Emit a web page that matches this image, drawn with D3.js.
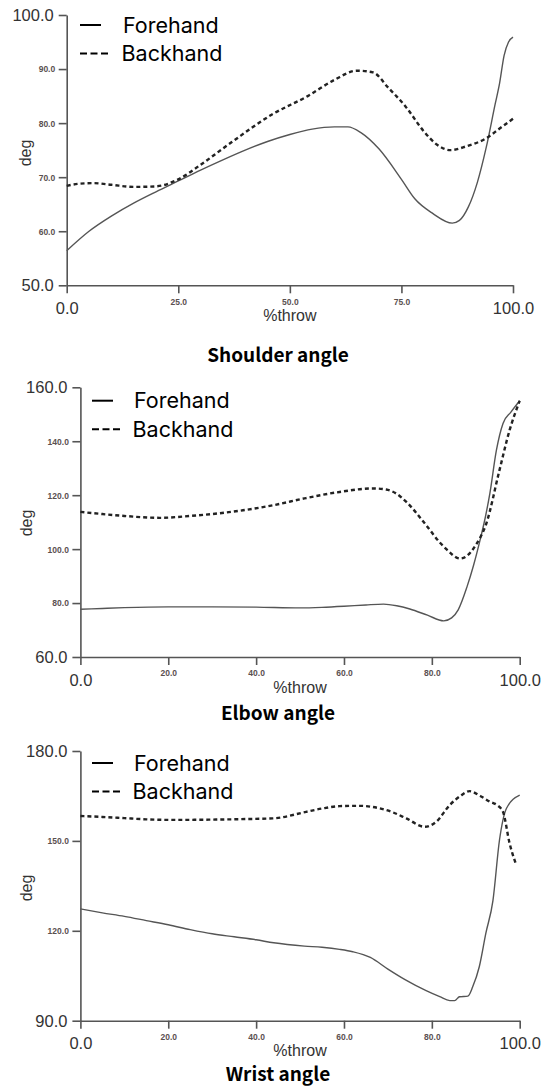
<!DOCTYPE html>
<html><head><meta charset="utf-8">
<script src="https://cdn.jsdelivr.net/npm/d3@7"></script>
<style>
html,body{margin:0;padding:0;background:#fff;}
svg{display:block;}
</style>
</head><body>
<svg id="c" width="546" height="1086"></svg>
<script>
// ---------- DATA ----------
const legendLabels = ["Forehand", "Backhand"];
const xAxisLabel = "%throw";
const yAxisLabel = "deg";
const panelTitles = ["Shoulder angle", "Elbow angle", "Wrist angle"];

const shoulderTicksX = [0, 25, 50, 75, 100];
const shoulderTicksY = [50, 60, 70, 80, 90, 100];
const elbowTicksX = [0, 20, 40, 60, 80, 100];
const elbowTicksY = [60, 80, 100, 120, 140, 160];
const wristTicksX = [0, 20, 40, 60, 80, 100];
const wristTicksY = [90, 120, 150, 180];

const shoulderFhX = [0, 5, 10, 15, 20, 25, 30, 35, 40, 45, 50, 55, 60, 63, 66, 70, 75, 78, 82, 86.4, 88, 90, 92, 94, 96, 97, 98, 99, 100];
const shoulderFhY = [56.4, 60, 62.8, 65.2, 67.3, 69.3, 71.3, 73.2, 75.0, 76.6, 77.9, 78.9, 79.3, 79.3, 78.2, 75.2, 69.6, 66.0, 63.3, 61.5, 62.0, 64.5, 69.0, 75.5, 83.5, 87.4, 92.5, 95.0, 95.9];
const shoulderBhX = [0, 3, 6, 10, 15, 20, 25, 30, 37, 46, 54, 60, 65, 68.6, 72, 76, 80, 83, 86, 89.5, 94, 97, 100];
const shoulderBhY = [68.4, 68.8, 68.9, 68.6, 68.2, 68.3, 69.6, 72.3, 76.5, 81.6, 85.0, 88.0, 89.7, 89.4, 86.6, 83.0, 78.5, 76.0, 75.0, 75.7, 77.2, 79.0, 80.8];

const elbowFhX = [0, 5, 10, 20, 30, 40, 50, 55, 60, 65, 69, 72, 75, 79, 82.7, 84.5, 86, 88, 89.5, 91, 92.2, 93.2, 94.7, 96.2, 98, 100];
const elbowFhY = [77.7, 78.0, 78.3, 78.6, 78.6, 78.5, 78.2, 78.4, 78.8, 79.3, 79.6, 79.0, 77.8, 75.5, 73.4, 74.5, 77.5, 86, 94, 103.5, 112, 120.6, 136.7, 146.6, 150.8, 155];
const elbowBhX = [0, 5, 10, 18, 25, 30, 37, 44, 51, 59, 66.6, 69.6, 72, 74.2, 78.7, 81.8, 83.3, 86.4, 88, 90, 92.4, 95.4, 97.7, 100];
const elbowBhY = [113.8, 113.0, 112.3, 111.6, 112.3, 113.0, 114.4, 116.3, 118.8, 121.2, 122.5, 122.1, 120.5, 117.5, 108.9, 102.5, 100.0, 96.5, 97.5, 101.5, 109.5, 129.3, 144.1, 155];

const wristFhX = [0, 5, 10, 15, 20, 25, 30, 35, 40, 44, 51, 55, 59, 62, 66, 70, 74, 78.7, 81.8, 84.1, 85.2, 86.3, 88.2, 89.3, 90.8, 92.3, 93.9, 95.4, 97, 100];
const wristFhY = [127.3, 126, 124.8, 123.4, 122, 120.4, 119, 118, 117, 116, 114.9, 114.5, 113.8, 113, 111.1, 107.2, 103.6, 100, 98, 96.7, 96.7, 98, 98.2, 101.3, 108, 119.2, 130, 150.3, 160.9, 165.3];
const wristBhX = [0, 5, 10, 15, 21, 30, 38, 43.8, 51.4, 55, 59, 63.6, 68, 71, 74.2, 78.4, 81, 84.1, 86.5, 88.6, 91, 93.2, 95, 96.2, 97.7, 99.2];
const wristBhY = [158.3, 158, 157.6, 157.2, 157, 157.1, 157.3, 157.5, 159.7, 160.8, 161.6, 161.7, 160.9, 159.6, 157.5, 154.7, 156.4, 162, 165, 166.6, 165, 163.1, 161.8, 159.7, 149.2, 142];

// ---------- DRAW ----------
const svg = d3.select("#c");
svg.append("rect").attr("width", 546).attr("height", 1086).attr("fill", "#fff");

const panels = [
  {left: 66.7, right: 513, top: 15, bottom: 285.3, xTicks: shoulderTicksX, yTicks: shoulderTicksY,
   fh: [shoulderFhX, shoulderFhY], bh: [shoulderBhX, shoulderBhY], title: panelTitles[0],
   titleY: 355, degX: 25, degY: 153, legX: 80, legTextX: 123, legY: 25},
  {left: 80.4, right: 519.7, top: 387.3, bottom: 657, xTicks: elbowTicksX, yTicks: elbowTicksY,
   fh: [elbowFhX, elbowFhY], bh: [elbowBhX, elbowBhY], title: panelTitles[1],
   titleY: 713, degX: 26, degY: 523, legX: 92, legTextX: 134, legY: 400.7},
  {left: 80.4, right: 519.7, top: 751, bottom: 1020.7, xTicks: wristTicksX, yTicks: wristTicksY,
   fh: [wristFhX, wristFhY], bh: [wristBhX, wristBhY], title: panelTitles[2],
   titleY: 1074, degX: 26, degY: 888, legX: 92, legTextX: 134, legY: 763}
];

const tickFont = "'Liberation Sans', Arial, sans-serif";
const legendFont = "Inter, 'Noto Sans', sans-serif";
const titleFont = "'Noto Sans CJK KR', 'Noto Sans', sans-serif";

panels.forEach(p => {
  const yMin = p.yTicks[0], yMax = p.yTicks[p.yTicks.length - 1];
  const x = d3.scaleLinear().domain([0, 100]).range([p.left, p.right]);
  const y = d3.scaleLinear().domain([yMin, yMax]).range([p.bottom, p.top]);
  const g = svg.append("g");

  const ya = g.append("g").attr("transform", `translate(${p.left},0)`)
    .call(d3.axisLeft(y).tickValues(p.yTicks).tickFormat(d3.format(".1f")).tickSize(8).tickSizeOuter(0).tickPadding(3));
  const xa = g.append("g").attr("transform", `translate(0,${p.bottom})`)
    .call(d3.axisBottom(x).tickValues(p.xTicks).tickFormat(d3.format(".1f")).tickSize(8).tickSizeOuter(0).tickPadding(3));

  [ya, xa].forEach(a => {
    a.select(".domain").attr("stroke", "#555").attr("stroke-width", 1.6);
    a.selectAll(".tick line").attr("stroke", "#555").attr("stroke-width", 1.6);
  });

  ya.selectAll(".tick text").each(function(d) {
    const big = (d === yMin || d === yMax);
    d3.select(this)
      .attr("font-family", tickFont)
      .attr("font-size", big ? 16.5 : 8.5)
      .attr("font-weight", big ? "normal" : "bold")
      .attr("fill", big ? "#333" : "#5a5050")
      .attr("x", big ? -13 : -11.5)
      .attr("dy", "0.34em");
  });
  xa.selectAll(".tick text").each(function(d) {
    const big = (d === 0 || d === 100);
    d3.select(this)
      .attr("font-family", tickFont)
      .attr("font-size", big ? 16.5 : 8.5)
      .attr("font-weight", big ? "normal" : "bold")
      .attr("fill", big ? "#333" : "#5a5050")
      .attr("y", big ? 23 : 16.5)
      .attr("dy", "0.35em");
  });

  g.append("text").attr("x", (p.left + p.right) / 2).attr("y", p.bottom + 30)
    .attr("dy", "0.35em").attr("text-anchor", "middle")
    .attr("font-family", tickFont).attr("font-size", 16).attr("fill", "#333")
    .text(xAxisLabel);
  g.append("text").attr("transform", `translate(${p.degX},${p.degY}) rotate(-90)`)
    .attr("dy", "0.35em").attr("text-anchor", "middle")
    .attr("font-family", tickFont).attr("font-size", 16).attr("fill", "#333")
    .text(yAxisLabel);

  g.append("text").attr("x", 278).attr("y", p.titleY).attr("dy", "0.35em")
    .attr("text-anchor", "middle").attr("font-family", titleFont)
    .attr("font-weight", "bold").attr("font-size", 19).attr("fill", "#000")
    .text(p.title);

  const line = d3.line().x(d => x(d[0])).y(d => y(d[1])).curve(d3.curveMonotoneX);
  const fhData = p.fh[0].map((v, i) => [v, p.fh[1][i]]);
  const bhData = p.bh[0].map((v, i) => [v, p.bh[1][i]]);
  g.append("path").datum(fhData).attr("d", line).attr("fill", "none")
    .attr("stroke", "#555").attr("stroke-width", 1.4);
  g.append("path").datum(bhData).attr("d", line).attr("fill", "none")
    .attr("stroke", "#222").attr("stroke-width", 2.4).attr("stroke-dasharray", "4,3");

  g.append("line").attr("x1", p.legX).attr("x2", p.legX + 21).attr("y1", p.legY).attr("y2", p.legY)
    .attr("stroke", "#000").attr("stroke-width", 2);
  g.append("line").attr("x1", p.legX).attr("x2", p.legX + 28).attr("y1", p.legY + 28.5).attr("y2", p.legY + 28.5)
    .attr("stroke", "#000").attr("stroke-width", 2).attr("stroke-dasharray", "7,3.5");
  g.append("text").attr("x", p.legTextX).attr("y", p.legY).attr("dy", "0.36em")
    .attr("font-family", legendFont).attr("font-size", 21.5).attr("fill", "#000").text(legendLabels[0]);
  g.append("text").attr("x", p.legTextX - 1.5).attr("y", p.legY + 28.5).attr("dy", "0.36em")
    .attr("font-family", legendFont).attr("font-size", 21.5).attr("fill", "#000").text(legendLabels[1]);
});
</script>
</body></html>
